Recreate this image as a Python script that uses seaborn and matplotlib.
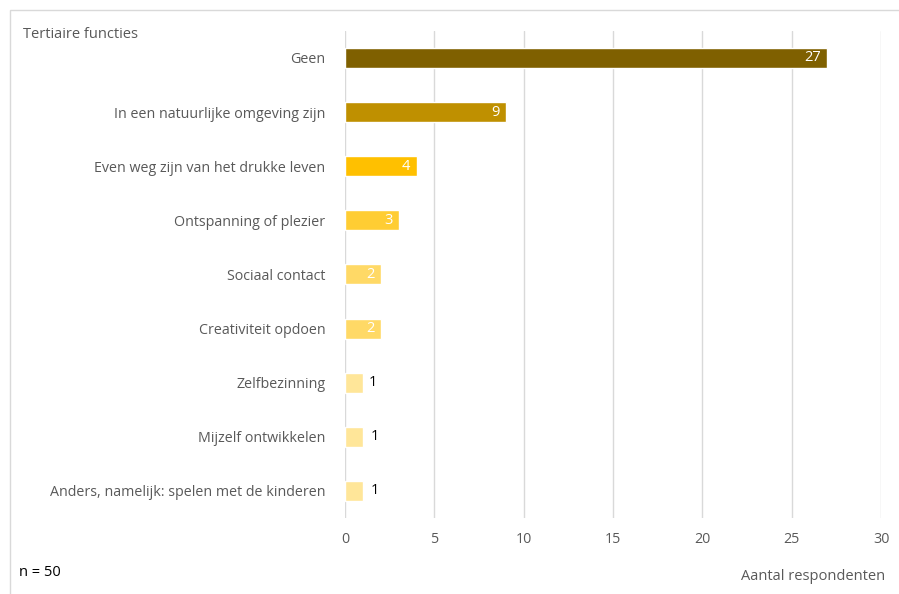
import matplotlib
matplotlib.use("Agg")
import matplotlib.pyplot as plt
import seaborn as sns
import pandas as pd
from matplotlib.patches import Rectangle

categories = [
    "Geen",
    "In een natuurlijke omgeving zijn",
    "Even weg zijn van het drukke leven",
    "Ontspanning of plezier",
    "Sociaal contact",
    "Creativiteit opdoen",
    "Zelfbezinning",
    "Mijzelf ontwikkelen",
    "Anders, namelijk: spelen met de kinderen",
]
counts = [27, 9, 4, 3, 2, 2, 1, 1, 1]
bar_colors = ["#7F6000", "#BF9000", "#FFC000", "#FFCD33", "#FFD966",
              "#FFD966", "#FFE699", "#FFE699", "#FFE699"]
x_ticks = [0, 5, 10, 15, 20, 25, 30]

df = pd.DataFrame({"functie": categories, "aantal": counts})

sns.set_style("white")
plt.rcParams["font.family"] = ["Open Sans", "DejaVu Sans"]
grey = "#595959"

fig = plt.figure(figsize=(8.99, 5.94), dpi=100)
ax = fig.add_axes([0.3838, 0.128, 0.9800 - 0.3838, 0.820])

sns.barplot(data=df, x="aantal", y="functie", hue="functie", palette=bar_colors,
            legend=False, width=0.37, ax=ax, saturation=1, orient="h")

ax.set_xlim(0, 30)
ax.set_xticks(x_ticks)
ax.grid(axis="x", color="#D9D9D9", linewidth=1)
ax.set_axisbelow(True)
for s in ax.spines.values():
    s.set_visible(False)
ax.tick_params(axis="both", length=0, colors=grey, labelsize=10.3)
ax.tick_params(axis="y", pad=14)
ax.tick_params(axis="x", pad=10)
ax.set_xlabel("")
ax.set_ylabel("")

for i, v in enumerate(counts):
    if v >= 2:
        ax.text(v - 0.35, i, str(v), ha="right", va="center", color="white", fontsize=10.5)
    else:
        ax.text(v + 0.3 + (0.15 if i > 6 else 0), i, str(v), ha="left", va="center",
                color="black", fontsize=10.5)

fig.text(0.026, 0.942, "Tertiaire functies", color=grey, fontsize=10.5, va="center")
fig.text(0.985, 0.030, "Aantal respondenten", color=grey, fontsize=10.5, ha="right", va="center")
fig.text(0.021, 0.037, "n = 50", color="black", fontsize=10.5, va="center")

# chart border
fig.patches.append(Rectangle((0.011, -0.01), 1.2, 0.993, transform=fig.transFigure,
                             fill=False, edgecolor="#D9D9D9", linewidth=1))

fig.savefig("out.png", dpi=100)
